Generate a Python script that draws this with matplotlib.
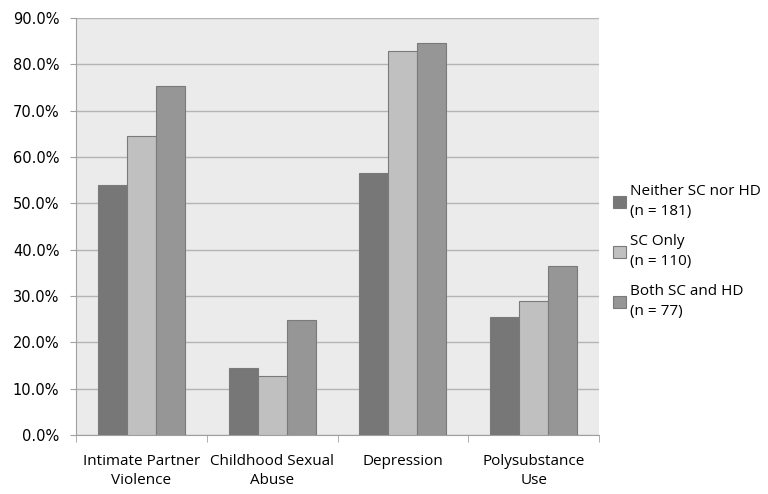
import matplotlib.pyplot as plt
import numpy as np
from matplotlib.ticker import FuncFormatter, FixedLocator

categories = ["Intimate Partner\nViolence", "Childhood Sexual\nAbuse", "Depression", "Polysubstance\nUse"]
groups = ["Neither SC nor HD\n(n = 181)", "SC Only\n(n = 110)", "Both SC and HD\n(n = 77)"]
neither = [54.0, 14.4, 56.5, 25.5]
sc_only = [64.5, 12.7, 82.8, 29.0]
both = [75.3, 24.8, 84.5, 36.4]

colors = ["#777777", "#c0c0c0", "#969696"]

plt.rcParams["font.family"] = ["Open Sans", "DejaVu Sans"]
plt.rcParams["font.size"] = 11

fig = plt.figure(figsize=(7.68, 4.94), dpi=100)
ax = fig.add_axes([0.099, 0.1194, 0.681, 0.8442])
ax.set_facecolor("#ebebeb")

x = np.arange(len(categories))
width = 1 / 4.5
for i, (vals, label) in enumerate(zip([neither, sc_only, both], groups)):
    ax.bar(x + (i - 1) * width, vals, width, color=colors[i], edgecolor="#7a7a7a",
           linewidth=0.8, label=label, zorder=3)

ax.set_xlim(-0.5, len(categories) - 0.5)
ax.set_ylim(0, 90)
ax.set_yticks(np.arange(0, 91, 10))
ax.yaxis.set_major_formatter(FuncFormatter(lambda v, p: f"{v:.1f}%"))
for lbl in ax.get_yticklabels():
    lbl.set_fontfamily("DejaVu Sans")
    lbl.set_fontsize(10.5)
ax.grid(axis="y", color="#b4b4b4", linewidth=1.0, zorder=0)

# category labels centred, tick marks on the boundaries
ax.set_xticks(x)
ax.set_xticklabels(categories, linespacing=1.3)
ax.xaxis.set_minor_locator(FixedLocator(np.arange(-0.5, len(categories), 1.0)))
ax.tick_params(axis="x", which="major", length=0, pad=14)
ax.tick_params(axis="x", which="minor", length=5, color="#a0a0a0")
ax.tick_params(axis="y", length=4, color="#a0a0a0", pad=8)

for side in ["top", "right"]:
    ax.spines[side].set_visible(False)
for side in ["left", "bottom"]:
    ax.spines[side].set_color("#a0a0a0")

leg = ax.legend(loc="center left", bbox_to_anchor=(1.0, 0.44), frameon=False,
                handlelength=0.85, handleheight=0.8, handletextpad=0.25,
                labelspacing=0.95, borderaxespad=0.5)
for t in leg.get_texts():
    t.set_linespacing(1.5)

plt.savefig("out.png", dpi=100)
